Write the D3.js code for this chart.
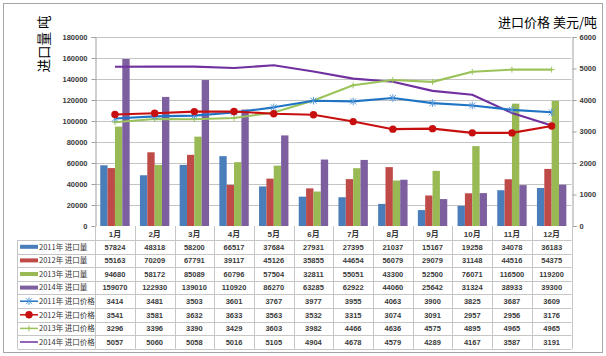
<!DOCTYPE html>
<html><head><meta charset="utf-8">
<script src="https://cdn.jsdelivr.net/npm/d3@7"></script>
<style>
html,body{margin:0;padding:0;background:#fff;}
svg text{font-family:"Liberation Sans","Noto Sans CJK SC",sans-serif;}
</style></head>
<body><svg id="c" width="606" height="356"></svg>
<script>
const months = ['1月','2月','3月','4月','5月','6月','7月','8月','9月','10月','11月','12月'];
const imp2011 = [57824,48318,58200,66517,37684,27931,27395,21037,15167,19258,34078,36183];
const imp2012 = [55163,70209,67791,39117,45126,35855,44654,56079,29079,31148,44516,54375];
const imp2013 = [94680,58172,85089,60796,57504,32811,55051,43300,52500,76071,116500,119200];
const imp2014 = [159070,122930,139010,110920,86270,63285,62922,44060,25642,31324,38933,39300];
const price2011 = [3414,3481,3503,3601,3767,3977,3955,4063,3900,3825,3687,3609];
const price2012 = [3541,3581,3632,3633,3563,3532,3315,3074,3091,2957,2956,3176];
const price2013 = [3296,3396,3390,3429,3603,3982,4466,4636,4575,4895,4965,4965];
const price2014 = [5057,5060,5058,5016,5105,4904,4678,4579,4289,4167,3587,3191];
const leftTicks = [0,20000,40000,60000,80000,100000,120000,140000,160000,180000];
const rightTicks = [0,1000,2000,3000,4000,5000,6000];
const barNames = ['2011年 进口量','2012年 进口量','2013年 进口量','2014年 进口量'];
const lineNames = ['2011年 进口价格','2012年 进口价格','2013年 进口价格','2014年 进口价格'];
const leftTitle = '进口量 吨';
const rightTitle = '进口价格 美元/吨';

const barSeries = [imp2011, imp2012, imp2013, imp2014];
const lineSeries = [price2011, price2012, price2013, price2014];
const barColors = ['#4A7EBB','#BE4B48','#98B954','#7D5FA0'];
const lineColors = ['#1F74C4','#C80F0F','#9BC35A','#7030A0'];
const markers = ['star','circle','plus','none'];

const svg = d3.select('#c');
const L = 95.1, R = 571.5, T = 37, B = 226;

// outer border
svg.append('rect').attr('x',3.5).attr('y',3.5).attr('width',599).attr('height',349)
  .attr('fill','#fff').attr('stroke','#a6a6a6').attr('stroke-width',1);

const x = d3.scaleBand().domain(months).range([L,R]).paddingInner(0).paddingOuter(0);
const x1 = d3.scaleBand().domain(d3.range(4)).range([0,x.bandwidth()]).paddingInner(0).paddingOuter(0.7);
const yL = d3.scaleLinear().domain([0,180000]).range([B,T]);
const yR = d3.scaleLinear().domain([0,6000]).range([B,T]);

// gridlines
svg.append('g').selectAll('line').data(leftTicks.slice(1)).join('line')
  .attr('x1',L).attr('x2',R).attr('y1',d=>Math.round(yL(d))+0.5).attr('y2',d=>Math.round(yL(d))+0.5)
  .attr('stroke','#c4c4c4').attr('stroke-width',1);

// left axis
const gL = svg.append('g').attr('transform',`translate(${Math.round(L)+0.5},0)`)
  .call(d3.axisLeft(yL).tickValues(leftTicks).tickSize(4).tickFormat(d3.format('d')));
gL.select('.domain').attr('stroke','#a0a0a0');
gL.selectAll('.tick line').attr('stroke','#a0a0a0');
gL.selectAll('.tick text').attr('x',-8).attr('font-size','7.5px').attr('font-weight','bold').attr('fill','#3a3a3a')
  .style('font-family','"Liberation Sans",sans-serif');

// right axis
const gR = svg.append('g').attr('transform',`translate(${Math.round(R)+0.5},0)`)
  .call(d3.axisRight(yR).tickValues(rightTicks).tickSize(4).tickFormat(d3.format('d')));
gR.select('.domain').attr('stroke','#a0a0a0');
gR.selectAll('.tick line').attr('stroke','#a0a0a0');
gR.selectAll('.tick text').attr('x',7).attr('font-size','7.5px').attr('font-weight','bold').attr('fill','#3a3a3a')
  .style('font-family','"Liberation Sans",sans-serif');

// bars
barSeries.forEach((s,i)=>{
  svg.append('g').selectAll('rect').data(s).join('rect')
    .attr('x',(d,j)=>x(months[j])+x1(i)).attr('width',x1.bandwidth())
    .attr('y',d=>yL(d)).attr('height',d=>B-yL(d))
    .attr('fill',barColors[i]);
});

// lines
function drawMarker(g, type, cx, cy, color){
  if(type==='circle'){
    g.append('circle').attr('cx',cx).attr('cy',cy).attr('r',3.7).attr('fill',color);
  } else if(type==='star'){
    const s=3, c='#5C9BDA';
    g.append('path').attr('d',`M${cx-s},${cy-s}L${cx+s},${cy+s}M${cx-s},${cy+s}L${cx+s},${cy-s}M${cx},${cy-s-0.8}L${cx},${cy+s+0.8}`)
      .attr('stroke',c).attr('stroke-width',1).attr('fill','none');
  } else if(type==='plus'){
    const s=3;
    g.append('path').attr('d',`M${cx-s},${cy}L${cx+s},${cy}M${cx},${cy-s}L${cx},${cy+s}`)
      .attr('stroke',color).attr('stroke-width',1).attr('fill','none');
  }
}
const lineGen = d3.line().x((d,j)=>x(months[j])+x.bandwidth()/2).y(d=>yR(d));
[3,2,0,1].forEach(i=>{
  const g = svg.append('g');
  g.append('path').datum(lineSeries[i]).attr('d',lineGen).attr('fill','none')
    .attr('stroke',lineColors[i]).attr('stroke-width',2.1).attr('stroke-linejoin','round');
  lineSeries[i].forEach((d,j)=>drawMarker(g, markers[i], x(months[j])+x.bandwidth()/2, yR(d), lineColors[i]));
});

// titles
svg.append('text').attr('transform','translate(49,44) rotate(-90)').attr('text-anchor','middle')
  .attr('font-size','13.5px').attr('fill','#000').style('font-family','"Noto Sans CJK SC",sans-serif').text(leftTitle);
svg.append('text').attr('x',597).attr('y',27).attr('text-anchor','end')
  .attr('font-size','13px').attr('fill','#000').style('font-family','"Noto Sans CJK SC",sans-serif').text(rightTitle);

// data table
const rowH = 13.6, headTop = B, headH = 14, tableLeft = 17.5;
const rows = barSeries.concat(lineSeries);
const names = barNames.concat(lineNames);
const tb = svg.append('g');
const gridC = '#c6c6c6';
const tableBottom = headTop + headH + rowH*8;
const vx = months.map(m=>x(m)).concat([R]);
tb.selectAll('line.v').data(vx).join('line').attr('class','v')
  .attr('x1',d=>Math.round(d)+0.5).attr('x2',d=>Math.round(d)+0.5)
  .attr('y1',headTop).attr('y2',tableBottom).attr('stroke',gridC);
tb.append('line').attr('x1',tableLeft).attr('x2',tableLeft).attr('y1',headTop+headH).attr('y2',tableBottom).attr('stroke',gridC);
d3.range(9).forEach(k=>{
  const yy = Math.round(headTop+headH+rowH*k)+0.5;
  tb.append('line').attr('x1',tableLeft).attr('x2',R).attr('y1',yy).attr('y2',yy).attr('stroke',gridC);
});
tb.selectAll('text.h').data(months).join('text').attr('class','h')
  .attr('x',d=>x(d)+x.bandwidth()/2).attr('y',headTop+10.5).attr('text-anchor','middle')
  .attr('font-size','8px').attr('font-weight','bold').attr('fill','#3a3a3a').text(d=>d);
rows.forEach((s,i)=>{
  const cy = headTop+headH+rowH*i+rowH/2;
  tb.append('g').selectAll('text').data(s).join('text')
    .attr('x',(d,j)=>x(months[j])+x.bandwidth()/2).attr('y',cy+2.8).attr('text-anchor','middle')
    .attr('font-size','7.5px').attr('font-weight','bold').attr('fill','#3a3a3a').text(d=>d);
  if(i<4){
    tb.append('rect').attr('x',20).attr('y',cy-2).attr('width',18).attr('height',4).attr('fill',barColors[i]);
  } else {
    tb.append('line').attr('x1',20).attr('x2',38).attr('y1',cy).attr('y2',cy).attr('stroke',lineColors[i-4]).attr('stroke-width',1.5);
    drawMarker(tb, markers[i-4], 29, cy, lineColors[i-4]);
  }
  tb.append('text').attr('x',39).attr('y',cy+2.8).attr('font-size','7.5px').attr('fill','#333')
    .style('font-family','"Noto Sans CJK SC",sans-serif').text(names[i]);
});
</script></body></html>
